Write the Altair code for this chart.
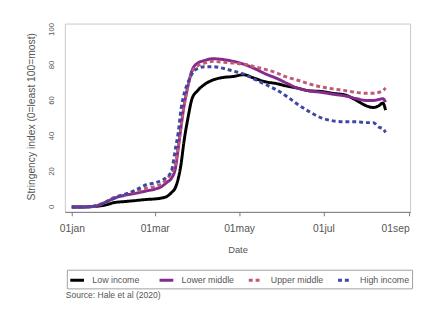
import altair as alt
import pandas as pd

dates = ["01-01", "01-10", "01-18", "01-25", "02-01", "02-08", "02-15", "02-24",
         "03-01", "03-06", "03-10", "03-13", "03-16", "03-18", "03-20", "03-22",
         "03-25", "03-28", "04-01", "04-06", "04-12", "04-20", "04-27", "05-04",
         "05-12", "05-20", "05-28", "06-05", "06-12", "06-20", "06-30", "07-08",
         "07-17", "07-25", "08-01", "08-06", "08-10", "08-13", "08-15"]

low_income = [0, 0, 0.3, 1, 2.5, 3, 3.5, 4.2, 4.5, 5, 6, 8, 11, 16, 24, 36,
              50, 61, 65.5, 69, 71.5, 73, 73.5, 74.5, 72.5, 70.5, 69.5, 68, 67, 65.5,
              65, 64, 63, 60, 57, 56, 57, 58.5, 54.5]
lower_middle = [0, 0, 0.5, 2.5, 5, 6.5, 7.5, 9, 10, 11.5, 14, 16, 22, 33, 45, 56,
                68, 77, 81, 82.5, 83.5, 83, 82, 80.5, 78, 75, 72.5, 69.5, 67, 65.5,
                64.5, 63.5, 62.5, 61, 60, 60, 60.5, 61, 59]
upper_middle = [0, 0, 0.5, 2.5, 5.5, 7, 8.5, 10.5, 11.5, 13, 16, 19, 24, 34, 45, 56,
                68, 76, 79.5, 81, 82, 81.5, 81, 80.5, 79, 77.5, 75.5, 73, 71.5, 69.5,
                67.5, 66.5, 65.5, 64.5, 64, 64, 64.5, 65.5, 67]
high_income = [0, 0, 0.5, 2.5, 5, 7, 9, 12.5, 13.5, 15, 17, 20, 33, 42, 55, 63,
               70, 75, 78, 79, 79, 78, 76.5, 75, 72, 69, 66, 62, 58, 54, 50,
               48.5, 48, 48, 47.5, 47.5, 45, 44, 42]

groups = ["Low income", "Lower middle", "Upper middle", "High income"]
colors = ["#000000", "#862B8E", "#C05A72", "#3E48A4"]
dashes = [[1, 0], [1, 0], [4, 3], [4, 3]]
widths = [3, 3, 1.7, 1.7]
y_ticks = [0, 20, 40, 60, 80, 100]
y_title = "Stringency index (0=least 100=most)"
source_text = "Source: Hale et al (2020)"

rows = []
for g, vals in zip(groups, [low_income, lower_middle, upper_middle, high_income]):
    for d, v in zip(dates, vals):
        rows.append({"date": "2020-" + d + "T00:00:00", "value": v, "group": g})
df = pd.DataFrame(rows)
tick_df = pd.DataFrame({"tick": y_ticks, "label": [str(t) for t in y_ticks]})

font = "Liberation Sans"
y_scale = alt.Scale(domain=[-2.8, 103.3], nice=False, zero=False)

lines = alt.Chart(df).mark_line(interpolate="monotone", clip=True).encode(
    x=alt.X(
        "date:T",
        scale=alt.Scale(
            domain=[alt.DateTime(year=2019, month=12, date=27),
                    alt.DateTime(year=2020, month=9, date=1, hours=17)],
            nice=False),
        axis=alt.Axis(
            values=[alt.DateTime(year=2020, month=m, date=1) for m in [1, 3, 5, 7, 9]],
            labelExpr="lower(timeFormat(datum.value, '%d%b'))",
            title="Date", grid=False, labelPadding=8, titlePadding=11,
            labelFontSize=10.5, titleFontSize=9.5),
    ),
    y=alt.Y(
        "value:Q",
        scale=y_scale,
        axis=alt.Axis(values=y_ticks, title=None, labelOpacity=0, grid=True,
                      labelFontSize=8),
    ),
    color=alt.Color("group:N", title=None,
                    scale=alt.Scale(domain=groups, range=colors)),
    strokeDash=alt.StrokeDash("group:N", title=None,
                              scale=alt.Scale(domain=groups, range=dashes)),
    strokeWidth=alt.StrokeWidth("group:N", title=None,
                                scale=alt.Scale(domain=groups, range=widths)),
)

ylabels = alt.Chart(tick_df).mark_text(
    angle=270, align="center", baseline="middle", fontSize=8,
    font=font, color="#555555"
).encode(
    y=alt.Y("tick:Q", scale=y_scale, axis=None),
    x=alt.value(-13),
    text="label:N",
)

ytitle = alt.Chart(alt.Data(values=[{}])).mark_text(
    text=y_title, angle=270, align="center", baseline="middle", fontSize=10.5,
    font=font, color="#555555"
).encode(x=alt.value(-33), y=alt.value(95))

note = alt.Chart(alt.Data(values=[{}])).mark_text(
    text=source_text, align="left", baseline="middle", fontSize=8.7,
    font=font, color="#555555"
).encode(x=alt.value(1), y=alt.value(277))

chart = alt.layer(lines, ylabels, ytitle, note).properties(
    width=352, height=192,
    autosize=alt.AutoSizeParams(type="none"),
    padding={"left": 58, "top": 13, "right": 5, "bottom": 89},
).configure_view(
    stroke="#C8C8C8", strokeWidth=1
).configure_axis(
    labelFont=font, titleFont=font,
    labelColor="#555555", titleColor="#555555", titleFontWeight="normal",
    domainColor="#777777", tickColor="#777777", tickSize=4,
    gridColor="#EAEAEA", gridWidth=1
).configure_legend(
    orient="none", legendX=2, legendY=251, direction="horizontal", columns=4,
    symbolType="stroke", symbolSize=196, labelFont=font, labelFontSize=9,
    labelColor="#555555", strokeColor="#A0A0A0", fillColor="white",
    padding=2, columnPadding=8, gridAlign="all", labelOffset=7
)

chart.save("out.html", embed_options={"renderer": "svg", "actions": False})
